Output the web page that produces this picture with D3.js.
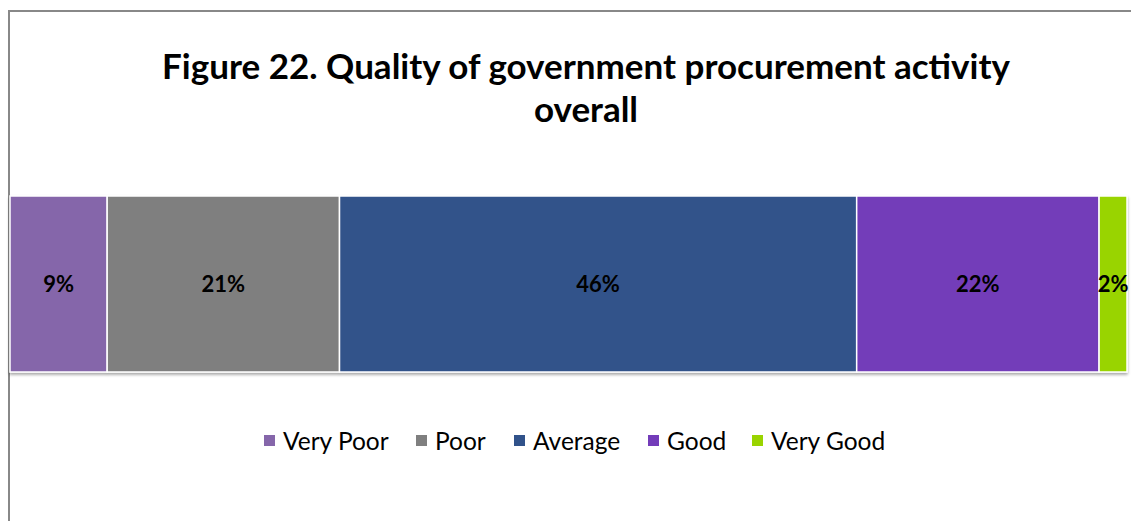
<!DOCTYPE html>
<html><head><meta charset="utf-8">
<script src="https://cdn.jsdelivr.net/npm/d3@7"></script>
<style>body{margin:0;background:#fff}svg{display:block}</style>
</head><body>
<script>
const categories = ["Very Poor", "Poor", "Average", "Good", "Very Good"];
const values = [8.7, 20.8, 46.3, 21.7, 2.5];
const labels = ["9%", "21%", "46%", "22%", "2%"];
const colors = ["#8566AA", "#7F7F7F", "#31528A", "#733CB9", "#99D400"];
const titleLines = ["Figure 22. Quality of government procurement activity", "overall"];

const W = 1131, H = 521;
const svg = d3.select("body").append("svg").attr("width", W).attr("height", H);

// chart border
svg.append("rect").attr("x", 9).attr("y", 11).attr("width", W + 10).attr("height", H + 10)
  .attr("fill", "#fff").attr("stroke", "#888").attr("stroke-width", 2);

// title
const title = svg.append("text").attr("text-anchor", "middle")
  .attr("font-family", "Lato, 'Open Sans', sans-serif").attr("font-weight", "bold")
  .attr("font-size", 35).attr("fill", "#000");
titleLines.forEach((t, i) => title.append("tspan").attr("x", 586).attr("y", 79 + i * 43).text(t));

// stacked bar
const x = d3.scaleLinear().domain([0, 100]).range([10, 1127]);
let cum = 0;
const segs = values.map((v, i) => { const s = {cat: categories[i], v, x0: cum, x1: cum + v, label: labels[i], color: colors[i]}; cum += v; return s; });
const y0 = 196, y1 = 372;

const defs = svg.append("defs");
const f = defs.append("filter").attr("id", "sh").attr("x", "-5%").attr("y", "-5%").attr("width", "110%").attr("height", "120%");
f.append("feGaussianBlur").attr("in", "SourceAlpha").attr("stdDeviation", 1.5);
f.append("feOffset").attr("dx", 0).attr("dy", 2).attr("result", "b");
f.append("feComponentTransfer").append("feFuncA").attr("type", "linear").attr("slope", 0.35);
const m = f.append("feMerge"); m.append("feMergeNode"); m.append("feMergeNode").attr("in", "SourceGraphic");

svg.append("g").attr("filter", "url(#sh)").selectAll("rect").data(segs).join("rect")
  .attr("x", d => x(d.x0)).attr("y", y0)
  .attr("width", d => x(d.x1) - x(d.x0)).attr("height", y1 - y0)
  .attr("fill", d => d.color).attr("stroke", "#fff").attr("stroke-width", 1.5);

svg.append("g").selectAll("text").data(segs).join("text")
  .attr("x", d => (x(d.x0) + x(d.x1)) / 2).attr("y", (y0 + y1) / 2 + 8)
  .attr("text-anchor", "middle").attr("font-family", "Lato, 'Open Sans', sans-serif")
  .attr("font-weight", "bold").attr("font-size", 22).attr("fill", "#000")
  .text(d => d.label);

// legend
const legendX = [264, 416, 514, 648, 752];
const lg = svg.append("g").selectAll("g").data(segs).join("g")
  .attr("transform", (d, i) => `translate(${legendX[i]},441)`);
lg.append("rect").attr("x", 0).attr("y", -6).attr("width", 11).attr("height", 11).attr("fill", d => d.color);
lg.append("text").attr("x", 19).attr("y", 9).attr("font-family", "Lato, 'Open Sans', sans-serif")
  .attr("font-size", 24.5).attr("fill", "#000").text(d => d.cat);
</script>
</body></html>
